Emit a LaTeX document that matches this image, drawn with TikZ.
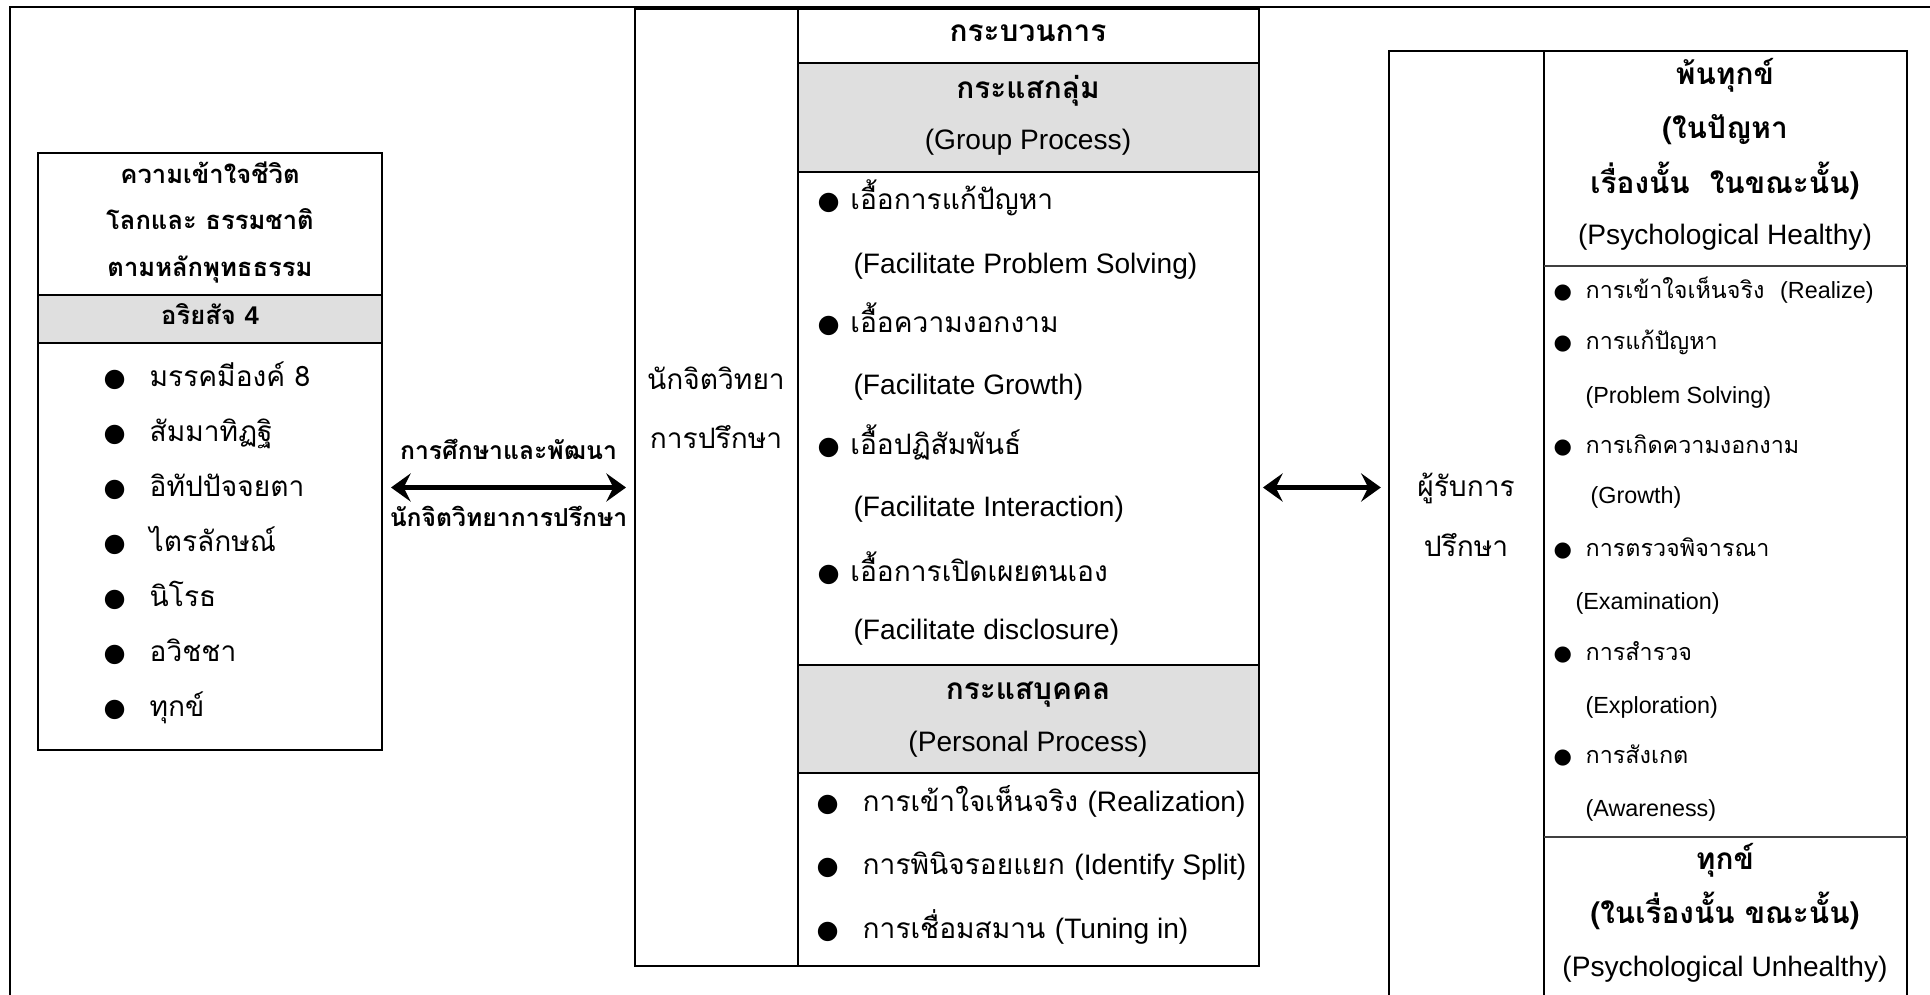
\documentclass[tikz,border=0pt]{standalone}
\usepackage{fontspec}
\setmainfont[Script=Thai]{Loma}
\newfontfamily\en{Liberation Sans}
\newfontfamily\sym{DejaVu Sans}
\usetikzlibrary{arrows.meta,fit}

\tikzset{
  box/.style={draw, line width=0.8pt, inner sep=0pt},
  rule/.style={line width=0.8pt},
  hair/.style={line width=0.5pt, black!75},
  band/.style={fill=gray!25},
  txt/.style={inner sep=0pt, text height=7pt, text depth=2.5pt, font=\fontsize{10}{12}\selectfont},
  bold/.style={txt, font=\fontsize{9.1}{12}\selectfont\bfseries},
  head/.style={txt, font=\fontsize{10.6}{12}\selectfont\bfseries},
  lbl/.style={txt, font=\fontsize{8.8}{12}\selectfont\bfseries},
  small/.style={txt, font=\fontsize{8.3}{10}\selectfont},
  biarrow/.style={{Stealth[length=7pt,width=10pt,inset=2.5pt]}-{Stealth[length=7pt,width=10pt,inset=2.5pt]}, line width=1.8pt},
}
\newcommand{\bul}[1]{\makebox[#1][l]{\sym\fontsize{9}{10}\selectfont ●}}
\newcommand{\sbul}[1]{\makebox[#1][l]{\sym\fontsize{7.5}{10}\selectfont ●}}

\begin{document}
\begin{tikzpicture}[x=0.0125cm, y=-0.0125cm]
        \clip (0,0) rectangle (1930,995);
        \draw[line width=0.55pt] (10,1010) -- (10,7) -- (1940,7);

        \fill[band] (38,295) rectangle (382,343);
        \fill[band] (798,63) rectangle (1259,172);
        \fill[band] (798,665) rectangle (1259,773);

        \node[box, fit={(38,153) (382,750)}] (wisdom) {};
        \draw[rule] (38,295) -- (382,295);
        \draw[rule] (38,343) -- (382,343);

        \node (wlife) at (210,177) [bold] {ความเข้าใจชีวิต};
        \node (wworld) at (210,223) [bold] {โลกและ ธรรมชาติ};
        \node (wdhamma) at (210,270) [bold] {ตามหลักพุทธธรรม};
        \node (wtruth) at (210,318) [bold] {อริยสัจ {\en 4}};
        \node (w1) at (103,380) [txt, anchor=west] {\bul{16.4pt}มรรคมีองค์ 8};
        \node (w2) at (103,435) [txt, anchor=west] {\bul{16.4pt}สัมมาทิฏฐิ};
        \node (w3) at (103,490) [txt, anchor=west] {\bul{16.4pt}อิทัปปัจจยตา};
        \node (w4) at (103,545) [txt, anchor=west] {\bul{16.4pt}ไตรลักษณ์};
        \node (w5) at (103,600) [txt, anchor=west] {\bul{16.4pt}นิโรธ};
        \node (w6) at (103,655) [txt, anchor=west] {\bul{16.4pt}อวิชชา};
        \node (w7) at (103,710) [txt, anchor=west] {\bul{16.4pt}ทุกข์};

        \node[box, fit={(635,9) (1259,966)}] (psych) {};
        \draw[rule] (798,9) -- (798,966);
        \draw[rule] (798,63) -- (1259,63);
        \draw[rule] (798,172) -- (1259,172);
        \draw[rule] (798,665) -- (1259,665);
        \draw[rule] (798,773) -- (1259,773);

        \node (pname) at (716,383) [txt] {นักจิตวิทยา};
        \node (pname2) at (716,442) [txt] {การปรึกษา};
        \node (proc) at (1028,35) [head] {กระบวนการ};
        \node (grp) at (1028,92) [head] {กระแสกลุ่ม};
        \node (grpen) at (1028,143) [txt] {\en (Group Process)};
        \node (g1) at (817,203) [txt, anchor=west] {\bul{11.7pt}เอื้อการแก้ปัญหา};
        \node (g1en) at (853,267) [txt, anchor=west] {\en (Facilitate Problem Solving)};
        \node (g2) at (817,326) [txt, anchor=west] {\bul{11.7pt}เอื้อความงอกงาม};
        \node (g2en) at (853,388) [txt, anchor=west] {\en (Facilitate Growth)};
        \node (g3) at (817,448) [txt, anchor=west] {\bul{11.7pt}เอื้อปฏิสัมพันธ์};
        \node (g3en) at (853,510) [txt, anchor=west] {\en (Facilitate Interaction)};
        \node (g4) at (817,575) [txt, anchor=west] {\bul{11.7pt}เอื้อการเปิดเผยตนเอง};
        \node (g4en) at (853,633) [txt, anchor=west] {\en (Facilitate disclosure)};
        \node (pers) at (1028,693) [head] {กระแสบุคคล};
        \node (persen) at (1028,745) [txt] {\en (Personal Process)};
        \node (q1) at (816,805) [txt, anchor=west] {\bul{16.4pt}การเข้าใจเห็นจริง {\en (Realization)}};
        \node (q2) at (816,868) [txt, anchor=west] {\bul{16.4pt}การพินิจรอยแยก {\en (Identify Split)}};
        \node (q3) at (816,932) [txt, anchor=west] {\bul{16.4pt}การเชื่อมสมาน {\en (Tuning in)}};

        \node[box, fit={(1389,51) (1907,1010)}] (client) {};
        \draw[rule] (1544,51) -- (1544,1010);
        \draw[hair] (1544,266) -- (1907,266);
        \draw[hair] (1544,837) -- (1907,837);

        \node (cname) at (1466,490) [txt] {ผู้รับการ};
        \node (cname2) at (1466,550) [txt] {ปรึกษา};
        \node (free) at (1725,78) [head] {พ้นทุกข์};
        \node (free2) at (1725,132) [head] {(ในปัญหา};
        \node (free3) at (1725,187) [head] {เรื่องนั้น~~ในขณะนั้น)};
        \node (freeen) at (1725,238) [txt] {\en (Psychological Healthy)};
        \node (c1) at (1553,292) [small, anchor=west] {\sbul{11.4pt}การเข้าใจเห็นจริง~ {\en (Realize)}};
        \node (c2) at (1553,343) [small, anchor=west] {\sbul{11.4pt}การแก้ปัญหา};
        \node (c2en) at (1585,397) [small, anchor=west] {\en (Problem Solving)};
        \node (c3) at (1553,447) [small, anchor=west] {\sbul{11.4pt}การเกิดความงอกงาม};
        \node (c3en) at (1590,497) [small, anchor=west] {\en (Growth)};
        \node (c4) at (1553,550) [small, anchor=west] {\sbul{11.4pt}การตรวจพิจารณา};
        \node (c4en) at (1575,603) [small, anchor=west] {\en (Examination)};
        \node (c5) at (1553,654) [small, anchor=west] {\sbul{11.4pt}การสำรวจ};
        \node (c5en) at (1585,707) [small, anchor=west] {\en (Exploration)};
        \node (c6) at (1553,757) [small, anchor=west] {\sbul{11.4pt}การสังเกต};
        \node (c6en) at (1585,810) [small, anchor=west] {\en (Awareness)};
        \node (pain) at (1725,863) [head] {ทุกข์};
        \node (pain2) at (1725,917) [head] {(ในเรื่องนั้น ขณะนั้น)};
        \node (painen) at (1725,970) [txt] {\en (Psychological Unhealthy)};

        \draw[biarrow, shorten <=2.8pt, shorten >=2.8pt] (wisdom.east |- psych.west) -- (psych.west)
            node (study) [lbl, midway, yshift=0.425cm] {การศึกษาและพัฒนา}
            node (trainee) [lbl, midway, yshift=-0.41cm] {นักจิตวิทยาการปรึกษา};
        \draw[biarrow, shorten <=1pt, shorten >=2.5pt] (psych.east) -- (client.west |- psych.east);
    \end{tikzpicture}
\end{document}
